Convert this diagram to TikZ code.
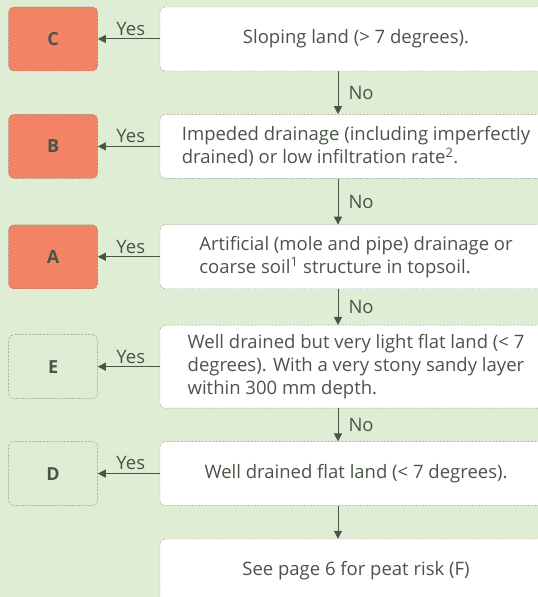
\documentclass[tikz,border=0pt]{standalone}
\usepackage{fontspec}
\setmainfont{Open Sans}
\usetikzlibrary{positioning,arrows.meta}
\definecolor{leafbg}{RGB}{224,237,213}
\definecolor{riskred}{RGB}{243,131,101}
\definecolor{inkgrey}{RGB}{74,84,72}

\begin{document}
\begin{tikzpicture}[x=1pt, y=1pt, node distance=43pt,
    font=\fontsize{18.5}{23}\selectfont, text=inkgrey,
    question/.style={rectangle,rounded corners=5pt,draw=inkgrey,densely dotted,
      fill=white,minimum width=392pt,minimum height=64pt,inner sep=0pt},
    risk/.style={rectangle,rounded corners=5pt,draw=inkgrey,densely dotted,
      minimum width=89pt,minimum height=64pt,inner sep=0pt,
      font=\fontsize{18}{20}\selectfont\bfseries},
    high risk/.style={risk,fill=riskred},
    flow/.style={draw=inkgrey,line width=1pt,solid,-{Triangle[length=8pt,width=8pt]}}]

	\clip (0,0) rectangle (538,597);
	\fill[leafbg] (0,0) rectangle (538,597);

	\node[question] (q1) at (356,558) {Sloping land (> 7 degrees).};
	\node[question, align=left] (q2) [below=43pt of q1] {Impeded drainage (including imperfectly\\drained) or low infiltration rate\textsuperscript{2}.};
	\node[question, align=left] (q3) [below=46pt of q2] {Artificial (mole and pipe) drainage or\\coarse soil\textsuperscript{1} structure in topsoil.};
	\node[question, align=left, minimum height=83pt] (q4) [below=36pt of q3] {Well drained but very light flat land (< 7\\degrees). With a very stony sandy layer\\within 300 mm depth.};
	\node[question] (q5) [below=33pt of q4] {Well drained flat land (< 7 degrees).};
	\node[question] (q6) [below=33pt of q5] {See page 6 for peat risk (F)};

	\node[high risk] (c) [left=62pt of q1] {C};
	\node[high risk] (b) [left=62pt of q2] {B};
	\node[high risk] (a) [left=62pt of q3] {A};
	\node[risk] (e) [left=62pt of q4] {E};
	\node[risk] (d) [left=62pt of q5] {D};

	\path[every edge/.style={flow}, every node/.style={inner sep=3pt, xshift=2pt}]
	(q1) edge node [above] {Yes} (c)
	(q2) edge node [above] {Yes} (b)
	(q3) edge node [above] {Yes} (a)
	(q4) edge node [above] {Yes} (e)
	(q5) edge node [above] {Yes} (d);

	\path[every edge/.style={flow}, every node/.style={right, xshift=10pt, inner sep=0pt}]
	([xshift=-18pt]q1.south) edge node {No} ([xshift=-18pt]q2.north)
	([xshift=-18pt]q2.south) edge node {No} ([xshift=-18pt]q3.north)
	([xshift=-18pt]q3.south) edge node {No} ([xshift=-18pt]q4.north)
	([xshift=-18pt]q4.south) edge node {No} ([xshift=-18pt]q5.north)
	([xshift=-18pt]q5.south) edge ([xshift=-18pt]q6.north);
\end{tikzpicture}
\end{document}
